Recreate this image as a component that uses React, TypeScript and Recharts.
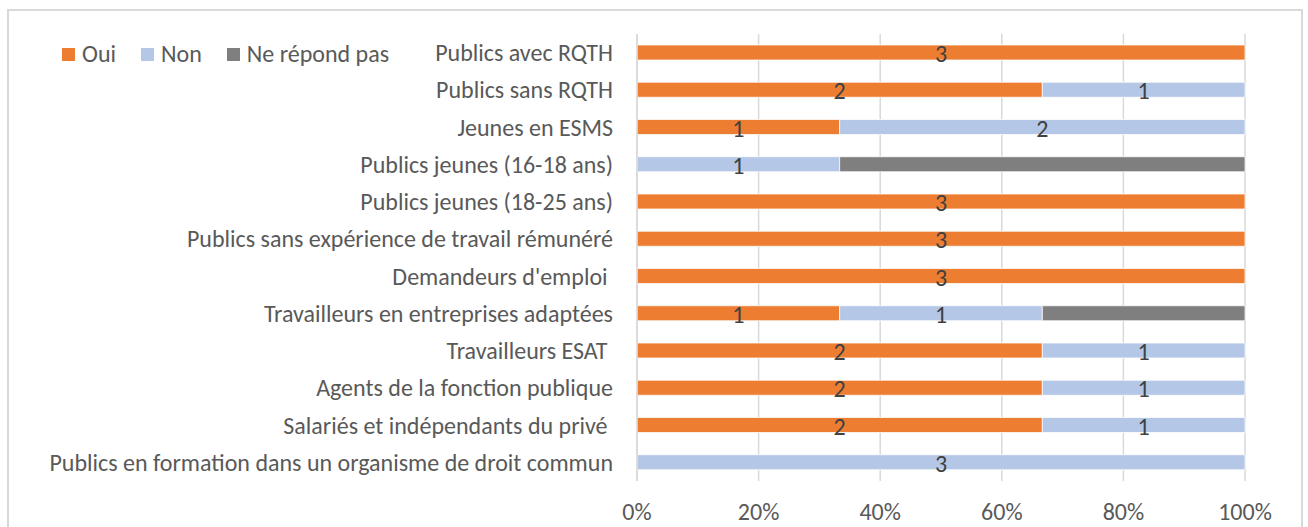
import { Bar, BarChart, CartesianGrid, LabelList, XAxis, YAxis } from "recharts";

const categories = [
  "Publics avec RQTH",
  "Publics sans RQTH",
  "Jeunes en ESMS",
  "Publics jeunes (16-18 ans)",
  "Publics jeunes (18-25 ans)",
  "Publics sans expérience de travail rémunéré",
  "Demandeurs d'emploi\u00a0",
  "Travailleurs en entreprises adaptées",
  "Travailleurs ESAT\u00a0",
  "Agents de la fonction publique",
  "Salariés et indépendants du privé\u00a0",
  "Publics en formation dans un organisme de droit commun",
];

const oui = [3, 2, 1, 0, 3, 3, 3, 1, 2, 2, 2, 0];
const non = [0, 1, 2, 1, 0, 0, 0, 1, 1, 1, 1, 3];
const nrp = [0, 0, 0, 2, 0, 0, 0, 1, 0, 0, 0, 0];

const xTicks = [0, 0.2, 0.4, 0.6, 0.8, 1];

const series = [
  { key: "oui", name: "Oui", color: "#ED7D31", labels: true },
  { key: "non", name: "Non", color: "#B4C7E7", labels: true },
  { key: "nrp", name: "Ne répond pas", color: "#7F7F7F", labels: false },
];

const data = categories.map((name, i) => ({
  name,
  oui: oui[i],
  non: non[i],
  nrp: nrp[i],
}));

const font = "Calibri, Carlito, Lato, sans-serif";

export default function App() {
  return (
    <div style={{ position: "absolute", left: 0, top: 0, width: 1308, height: 527, fontFamily: font }}>
      <div
        style={{
          position: "absolute",
          left: 7,
          top: 9,
          width: 1296,
          height: 540,
          border: "2px solid #d9d9d9",
          boxSizing: "border-box",
        }}
      />
      <div
        style={{
          position: "absolute",
          left: 62,
          top: 40,
          display: "flex",
          gap: 25,
          fontSize: 24,
          color: "#595959",
          lineHeight: "28px",
        }}
      >
        {series.map((s) => (
          <div key={s.key} style={{ display: "flex", alignItems: "center" }}>
            <span style={{ width: 13, height: 13, background: s.color, marginRight: 7, display: "inline-block" }} />
            <span>{s.name}</span>
          </div>
        ))}
      </div>
      <div style={{ position: "absolute", left: 0, top: 0 }}>
        <BarChart
          width={1308}
          height={527}
          data={data}
          layout="vertical"
          stackOffset="expand"
          barSize={15}
          margin={{ top: 34, right: 63, bottom: 16, left: 0 }}
        >
          <CartesianGrid horizontal={false} stroke="#d9d9d9" strokeWidth={1.5} />
          <XAxis
            type="number"
            domain={[0, 1]}
            ticks={xTicks}
            tickFormatter={(v) => `${Math.round(Number(v) * 100)}%`}
            axisLine={false}
            tickLine={false}
            tickSize={0}
            tickMargin={22}
            height={30}
            tick={{ fill: "#595959", fontSize: 24, fontFamily: font }}
          />
          <YAxis
            type="category"
            dataKey="name"
            width={637}
            axisLine={{ stroke: "#d9d9d9", strokeWidth: 1.5 }}
            tickLine={false}
            tickSize={0}
            tickMargin={24}
            interval={0}
            tick={{ fill: "#595959", fontSize: 24, fontFamily: font }}
          />
          {series.map((s) => (
            <Bar
              key={s.key}
              dataKey={s.key}
              name={s.name}
              stackId="a"
              fill={s.color}
              stroke="#ffffff"
              strokeWidth={0.75}
              isAnimationActive={false}
            >
              {s.labels && (
                <LabelList
                  dataKey={s.key}
                  position="center"
                  formatter={(v: any) => (Number(v) ? v : "")}
                  fill="#404040"
                  fontSize={24}
                  fontFamily={font}
                  dy={1}
                />
              )}
            </Bar>
          ))}
        </BarChart>
      </div>
    </div>
  );
}
